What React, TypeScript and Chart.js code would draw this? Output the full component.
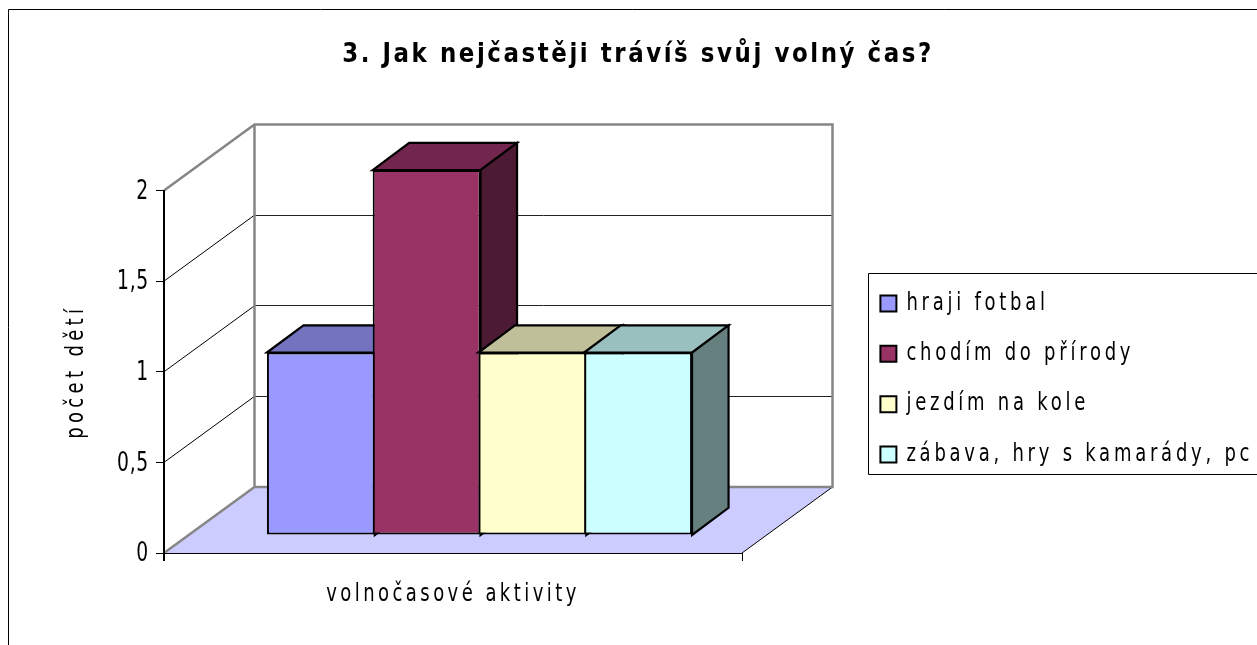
import React, { useEffect, useRef } from "react";
import { Chart, registerables } from "chart.js";

Chart.register(...registerables);

const categories = ["volnočasové aktivity"];
const seriesNames = ["hraji fotbal", "chodím do přírody", "jezdím na kole", "zábava, hry s kamarády, pc"];
const seriesValues = [[1], [2], [1], [1]];
const frontColors = ["#9999FF", "#993366", "#FFFFCC", "#CCFFFF"];
const topColors = ["#7373BF", "#73264D", "#BFBF99", "#99BFBF"];
const sideColors = ["#4D4D80", "#4D1A33", "#808066", "#668080"];
const titleText = "3. Jak nejčastěji trávíš svůj volný čas?";
const yAxisTitle = "počet dětí";

const FONT = "'DejaVu Sans', sans-serif";
const W = 1257, H = 645;
// depth of the 3D box and of the bars within it
const WALL_DX = 90.5, WALL_DY = -66;
const BAR_SHIFT_X = 26.5, BAR_SHIFT_Y = -18, BAR_K = 1.0068;
const BAR_DX = 36.5, BAR_DY = -27;

// draws a box's text narrower and more widely spaced, as in the reference's typeface
function textStyle(obj: any, method: string, spacing: string, sx: number, dy = 0, dx = 0) {
  const orig = obj[method];
  if (orig.__wrapped) return;
  const fn = function (this: any, ...args: any[]) {
    const ctx = this.ctx;
    const prev = ctx.letterSpacing;
    const fillText = ctx.fillText;
    ctx.letterSpacing = spacing;
    ctx.fillText = function (t: string, x: number, y: number) {
      ctx.save();
      ctx.translate(x + dx, y + dy);
      ctx.scale(sx, 1);
      fillText.call(ctx, t, 0, 0);
      ctx.restore();
    };
    orig.apply(this, args);
    delete ctx.fillText;
    ctx.letterSpacing = prev;
  };
  (fn as any).__wrapped = true;
  obj[method] = fn;
}

function poly(ctx: CanvasRenderingContext2D, pts: number[][], fill?: string, stroke?: string, lw = 1) {
  ctx.beginPath();
  pts.forEach((p, i) => (i ? ctx.lineTo(p[0], p[1]) : ctx.moveTo(p[0], p[1])));
  ctx.closePath();
  if (fill) { ctx.fillStyle = fill; ctx.fill(); }
  if (stroke) { ctx.strokeStyle = stroke; ctx.lineWidth = lw; ctx.stroke(); }
}

function line(ctx: CanvasRenderingContext2D, x1: number, y1: number, x2: number, y2: number, color: string, lw: number) {
  ctx.beginPath();
  ctx.moveTo(x1, y1);
  ctx.lineTo(x2, y2);
  ctx.strokeStyle = color;
  ctx.lineWidth = lw;
  ctx.stroke();
}

const box3d = {
  id: "box3d",
  afterLayout(chart: any) {
    const t = chart.titleBlock;
    t.left = 0; t.right = 1276;
    const l = chart.legend;
    l.left = 854; l.top = 265; l.bottom = l.top + l.height; l.right = W;
    textStyle(t, "draw", "3px", 0.85);
    textStyle(l, "draw", "5px", 0.75, 0, -2);
    textStyle(chart.scales.x, "drawTitle", "4.6px", 0.75);
    textStyle(chart.scales.y, "drawTitle", "5.8px", 0.75);
    textStyle(chart.scales.y, "drawLabels", "1px", 0.72, 1.5);
  },
  beforeDraw(chart: any) {
    const ctx: CanvasRenderingContext2D = chart.ctx;
    const { y } = chart.scales;
    const L = chart.chartArea.left, R = chart.chartArea.right;
    const y0 = y.getPixelForValue(0), yMax = y.getPixelForValue(2);
    ctx.save();
    ctx.fillStyle = "#FFFFFF";
    ctx.fillRect(0, 0, W, H);
    // outer frame: runs off the page on the right and at the bottom
    ctx.strokeStyle = "#000000"; ctx.lineWidth = 1;
    ctx.beginPath(); ctx.moveTo(8.5, H); ctx.lineTo(8.5, 9.5); ctx.lineTo(W, 9.5); ctx.stroke();
    // legend frame
    ctx.beginPath(); ctx.moveTo(W, 273.5); ctx.lineTo(868.5, 273.5); ctx.lineTo(868.5, 474.5); ctx.lineTo(W, 474.5); ctx.stroke();
    // floor
    poly(ctx, [[L, y0], [L + WALL_DX, y0 + WALL_DY], [R + WALL_DX, y0 + WALL_DY], [R, y0]], "#CCCCFF");
    // gridlines
    for (const v of y.ticks.map((t: any) => t.value)) {
      const py = y.getPixelForValue(v);
      if (v > 0 && v < 2) {
        line(ctx, L, py, L + WALL_DX, py + WALL_DY, "#000000", 1);
        line(ctx, L + WALL_DX, Math.floor(py + WALL_DY) + 0.5, R + WALL_DX, Math.floor(py + WALL_DY) + 0.5, "#222222", 1);
      }
    }
    line(ctx, R, y0, R + WALL_DX, y0 + WALL_DY, "#000000", 1);
    // grey wall outlines
    const bx = L + WALL_DX;
    ctx.lineJoin = "miter";
    ctx.beginPath();
    ctx.moveTo(L, yMax); ctx.lineTo(bx, yMax + WALL_DY); ctx.lineTo(R + WALL_DX, yMax + WALL_DY);
    ctx.lineTo(R + WALL_DX, y0 + WALL_DY); ctx.lineTo(bx, y0 + WALL_DY); ctx.lineTo(L, y0);
    ctx.moveTo(bx, yMax + WALL_DY); ctx.lineTo(bx, y0 + WALL_DY);
    ctx.strokeStyle = "#868686"; ctx.lineWidth = 2.5; ctx.stroke();
    // front axis lines
    line(ctx, Math.floor(L) - 0.5, yMax, Math.floor(L) - 0.5, y0 + 8, "#000000", 1);
    line(ctx, L - 8, Math.floor(y0) + 0.5, R, Math.floor(y0) + 0.5, "#000000", 1);
    ctx.restore();
  },
  beforeDatasetsDraw(chart: any) {
    const ctx: CanvasRenderingContext2D = chart.ctx;
    const base = chart.scales.y.getPixelForValue(0);
    ctx.save();
    ctx.translate(BAR_SHIFT_X, base + BAR_SHIFT_Y);
    ctx.scale(1, BAR_K);
    ctx.translate(0, -base);
    seriesNames.forEach((_, i) => {
      const meta = chart.getDatasetMeta(i);
      meta.data.forEach((el: any) => {
        const { x, y, width } = el.getProps(["x", "y", "width"], true);
        const l = x - width / 2, r = x + width / 2;
        poly(ctx, [[l, y], [r, y], [r + BAR_DX, y + BAR_DY], [l + BAR_DX, y + BAR_DY]], topColors[i], "#000000", 2.2);
        poly(ctx, [[r, y], [r + BAR_DX, y + BAR_DY], [r + BAR_DX, base + BAR_DY], [r, base]], sideColors[i], "#000000", 2.2);
        el.draw(ctx);
      });
    });
    ctx.restore();
    return false;
  },
};

export default function App() {
  const ref = useRef<HTMLCanvasElement>(null);
  useEffect(() => {
    const chart = new Chart(ref.current as HTMLCanvasElement, {
      type: "bar",
      data: {
        labels: categories,
        datasets: seriesNames.map((name, i) => ({
          label: name,
          data: seriesValues[i],
          backgroundColor: frontColors[i],
          borderColor: "#000000",
          borderWidth: 2,
          borderSkipped: false,
          barPercentage: 1.02,
          categoryPercentage: 423 / 578,
        })),
      },
      plugins: [box3d],
      options: {
        animation: false,
        responsive: false,
        layout: { padding: { left: 0, top: 0, right: W - 742, bottom: 0 } },
        plugins: {
          tooltip: { enabled: false },
          title: {
            display: true,
            text: titleText,
            color: "#000000",
            font: { family: FONT, size: 27, weight: "bold" },
            padding: { top: 39, bottom: 119.1 },
          },
          legend: {
            display: true,
            position: "chartArea",
            align: "start",
            labels: {
              color: "#000000",
              font: { family: FONT, size: 24 },
              boxWidth: 16,
              boxHeight: 16,
              padding: 26.4,
            },
          },
        },
        scales: {
          x: {
            afterFit: (s: any) => { s.height = H - 553; },
            ticks: { display: false },
            grid: { drawOnChartArea: false, drawTicks: true, tickLength: 8, color: "#000000" },
            border: { color: "#000000" },
            title: {
              display: true,
              text: categories[0],
              color: "#000000",
              font: { family: FONT, size: 24 },
              padding: { top: 0, bottom: 36 },
              align: "center",
            },
          },
          y: {
            min: 0,
            max: 2,
            afterFit: (s: any) => { s.width = 164; },
            ticks: {
              stepSize: 0.5,
              color: "#000000",
              padding: 7,
              font: { family: FONT, size: 26 },
              callback: (v: any) => String(v).replace(".", ","),
            },
            grid: { drawOnChartArea: false, drawTicks: true, tickLength: 8, color: "#000000" },
            border: { color: "#000000" },
            title: {
              display: true,
              text: yAxisTitle,
              color: "#000000",
              font: { family: FONT, size: 24 },
              padding: { top: 62, bottom: 0 },
            },
          },
        },
      },
    } as any);
    return () => chart.destroy();
  }, []);
  return (
    <canvas
      ref={ref}
      width={W}
      height={H}
      style={{ position: "absolute", left: 0, top: 0, display: "block", width: W, height: H }}
    />
  );
}
